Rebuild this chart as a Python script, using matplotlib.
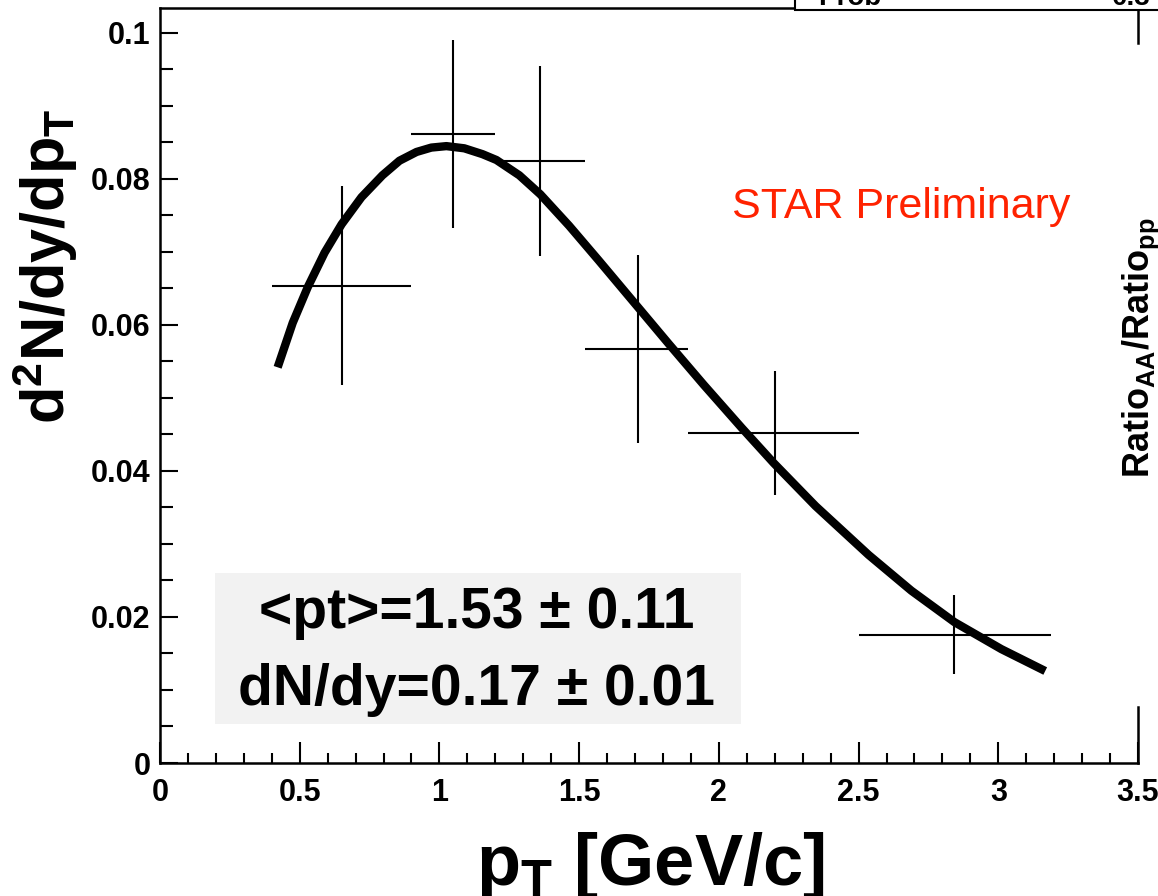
import matplotlib
matplotlib.use('Agg')
import matplotlib.pyplot as plt
from matplotlib.patches import Rectangle
from matplotlib.ticker import MultipleLocator, FixedLocator

plt.rcParams.update({
    'font.family': ['Liberation Sans', 'DejaVu Sans'],
    'mathtext.fontset': 'custom',
    'mathtext.rm': 'Liberation Sans:bold',
    'mathtext.it': 'Liberation Sans:bold',
    'mathtext.bf': 'Liberation Sans:bold',
})

# data points (bin centres, bin edges, yields, stat errors)
pt = [0.65, 1.05, 1.36, 1.71, 2.20, 2.84]
pt_lo = [0.40, 0.90, 1.20, 1.52, 1.89, 2.50]
pt_hi = [0.90, 1.20, 1.52, 1.89, 2.50, 3.19]
yld = [0.0654, 0.0862, 0.0825, 0.0567, 0.0452, 0.0176]
yld_err = [0.0136, 0.0129, 0.0130, 0.0129, 0.0085, 0.0054]

# fit curve
fit_pt = [0.421, 0.475, 0.529, 0.589, 0.650, 0.721, 0.796, 0.857, 0.918, 0.971,
          1.025, 1.089, 1.154, 1.204, 1.286, 1.361, 1.464, 1.571, 1.707, 1.821,
          1.946, 2.082, 2.196, 2.346, 2.536, 2.689, 2.843, 3.011, 3.168]
fit_y = [0.0542, 0.0603, 0.0652, 0.0699, 0.0738, 0.0775, 0.0805, 0.0825, 0.0837, 0.0843,
         0.0845, 0.0842, 0.0834, 0.0826, 0.0805, 0.0779, 0.0736, 0.0688, 0.0626, 0.0574,
         0.0518, 0.0459, 0.0411, 0.0352, 0.0285, 0.0236, 0.0193, 0.0156, 0.0126]

x_ticks = [0, 0.5, 1, 1.5, 2, 2.5, 3, 3.5]
x_ticklabels = ['0', '0.5', '1', '1.5', '2', '2.5', '3', '3.5']
y_ticks = [0, 0.02, 0.04, 0.06, 0.08, 0.1]
y_ticklabels = ['0', '0.02', '0.04', '0.06', '0.08', '0.1']

W, H = 1158, 896
fig = plt.figure(figsize=(W / 100, H / 100), dpi=100)
ax = fig.add_axes([160 / W, 133 / H, 978 / W, 755 / H])

xerr_lo = [c - lo for c, lo in zip(pt, pt_lo)]
xerr_hi = [hi - c for c, hi in zip(pt, pt_hi)]
ax.errorbar(pt, yld, xerr=[xerr_lo, xerr_hi], yerr=yld_err, fmt='none',
            ecolor='black', elinewidth=1.5, capsize=0, zorder=3)
ax.plot(fit_pt, fit_y, color='black', lw=6, solid_capstyle='butt',
        solid_joinstyle='round', zorder=4)

ax.set_xlim(0, 3.5)
ax.set_ylim(0, 0.10342)
ax.xaxis.set_major_locator(FixedLocator(x_ticks))
ax.set_xticklabels(x_ticklabels)
ax.yaxis.set_major_locator(FixedLocator(y_ticks))
ax.set_yticklabels(y_ticklabels)
ax.xaxis.set_minor_locator(MultipleLocator(0.1))
ax.yaxis.set_minor_locator(MultipleLocator(0.005))
ax.tick_params(axis='x', which='major', direction='in', length=15, width=1.5,
               labelsize=22, pad=11)
ax.tick_params(axis='x', which='minor', direction='in', length=7.5, width=1.5)
ax.tick_params(axis='y', which='major', direction='in', length=13, width=1.5,
               labelsize=22, pad=7)
ax.tick_params(axis='y', which='minor', direction='in', length=9.5, width=1.5)
for lab in ax.get_xticklabels() + ax.get_yticklabels():
    lab.set_fontweight('bold')

for s in ['left', 'bottom', 'top']:
    ax.spines[s].set_linewidth(1.8)
ax.spines['right'].set_visible(False)
# right frame only partly visible (covered by neighbouring pad)
ax.plot([1, 1], [0, 0.074], transform=ax.transAxes, color='black', lw=1.8, clip_on=False)
ax.plot([1, 1], [0.954, 1], transform=ax.transAxes, color='black', lw=1.8, clip_on=False)

# axis titles
fig.text(45 / W, 1 - 266 / H, r'd$^{2}$N/dy/dp$_{T}$', rotation=90, ha='center',
         va='center', fontsize=44, fontweight='bold')
fig.text(650 / W, 11 / H, r'p$_{T}$ [GeV/c]', ha='center', va='baseline',
         fontsize=52, fontweight='bold')

# inset with fit results
fig.patches.append(Rectangle((215 / W, 1 - 724 / H), 526 / W, 151 / H,
                             transform=fig.transFigure, facecolor='#f2f2f2',
                             edgecolor='none', zorder=1))
fig.text(477 / W, 1 - 628 / H, '<pt>=1.53 ± 0.11', ha='center', va='baseline',
         fontsize=41, fontweight='bold', zorder=2)
fig.text(477 / W, 1 - 705 / H, 'dN/dy=0.17 ± 0.01', ha='center', va='baseline',
         fontsize=41, fontweight='bold', zorder=2)

fig.text(732 / W, 1 - 218 / H, 'STAR Preliminary', ha='left', va='baseline',
         fontsize=31, color='#ff2200')

# stat box of the pad, cut by the top edge
fig.patches.append(Rectangle((795 / W, 1 - 10 / H), 400 / W, 40 / H,
                             transform=fig.transFigure, facecolor='white',
                             edgecolor='black', lw=1.5, zorder=5))
fig.text(818 / W, 1 - 5 / H, 'Prob', ha='left', va='baseline', fontsize=20,
         fontweight='bold', zorder=6)
fig.text(1112 / W, 1 - 5 / H, '0.3', ha='left', va='baseline', fontsize=20,
         fontweight='bold', zorder=6)

# title of neighbouring pad's y axis
fig.text(1141 / W, 1 - 478 / H, r'Ratio$_{AA}$/Ratio$_{pp}$', rotation=90,
         ha='center', va='bottom', fontsize=26, fontweight='bold')

fig.savefig('out.png', dpi=100)
